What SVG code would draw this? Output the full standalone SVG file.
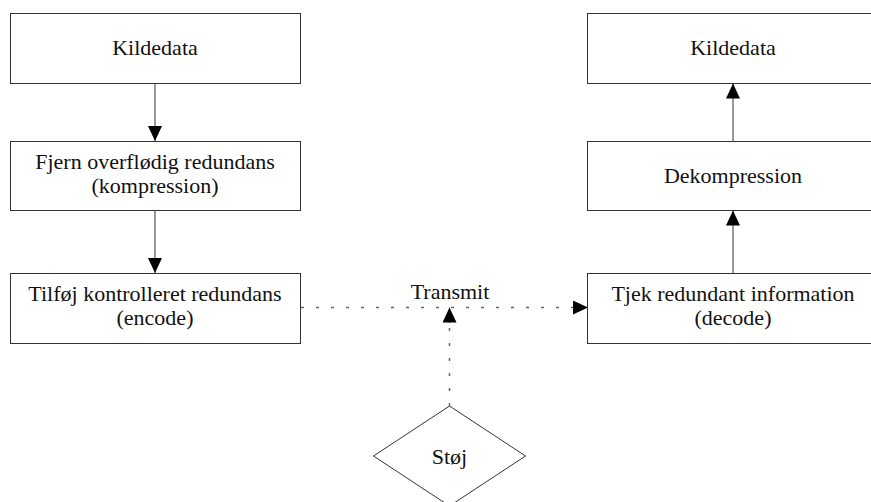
<svg xmlns="http://www.w3.org/2000/svg" width="871" height="502" viewBox="0 0 871 502">
  <style>
    .box { fill: #ffffff; stroke: #333333; stroke-width: 1; }
    .lbl { font-family: 'Liberation Serif', 'DejaVu Serif', serif; font-size: 22px; fill: #111111; text-anchor: middle; }
    .edge { fill: none; stroke: #555555; stroke-width: 1.2; }
    .dotted { fill: none; stroke: #666666; stroke-width: 1.5; stroke-dasharray: 3 12; }
  </style>
  <defs>
    <marker id="head" viewBox="0 0 15 14" refX="15" refY="7" markerWidth="15" markerHeight="14" markerUnits="userSpaceOnUse" orient="auto">
      <path d="M0,0 L15,7 L0,14 Z" fill="#000000"/>
    </marker>
  </defs>
  <rect width="871" height="502" fill="#ffffff"/>

  <!-- connectors -->
  <g id="connectors">
    <line class="edge" x1="155" y1="83" x2="155" y2="141" marker-end="url(#head)"/>
    <line class="edge" x1="155" y1="210" x2="155" y2="273" marker-end="url(#head)"/>
    <line class="edge" x1="733" y1="273" x2="733" y2="210.5" marker-end="url(#head)"/>
    <line class="edge" x1="733" y1="141" x2="733" y2="83.5" marker-end="url(#head)"/>
    <line class="dotted" x1="301" y1="307.5" x2="572" y2="307.5"/>
    <line class="edge" x1="572" y1="307.5" x2="588" y2="307.5" stroke-width="0" marker-end="url(#head)"/>
    <line class="dotted" x1="449.5" y1="406" x2="449.5" y2="322"/>
    <line class="edge" x1="449.5" y1="323" x2="449.5" y2="307.5" stroke-width="0" marker-end="url(#head)"/>
    <text class="lbl" x="450" y="299" font-family="Liberation Serif, DejaVu Serif, serif">Transmit</text>
  </g>

  <!-- sender side -->
  <g id="kildedata-src">
    <rect class="box" x="10.5" y="13.5" width="290" height="70"/>
    <text class="lbl" x="155" y="55">Kildedata</text>
  </g>
  <g id="kompression">
    <rect class="box" x="10.5" y="141.5" width="290" height="69"/>
    <text class="lbl" x="155" y="169">Fjern overflødig redundans</text>
    <text class="lbl" x="155" y="193">(kompression)</text>
  </g>
  <g id="encode">
    <rect class="box" x="10.5" y="273.5" width="290" height="70"/>
    <text class="lbl" x="155" y="301">Tilføj kontrolleret redundans</text>
    <text class="lbl" x="155" y="325">(encode)</text>
  </g>

  <!-- receiver side -->
  <g id="kildedata-dst">
    <rect class="box" x="587.5" y="13.5" width="291" height="70"/>
    <text class="lbl" x="733" y="55">Kildedata</text>
  </g>
  <g id="dekompression">
    <rect class="box" x="587.5" y="141.5" width="291" height="69"/>
    <text class="lbl" x="733" y="183">Dekompression</text>
  </g>
  <g id="decode">
    <rect class="box" x="587.5" y="273.5" width="291" height="70"/>
    <text class="lbl" x="733" y="301">Tjek redundant information</text>
    <text class="lbl" x="733" y="325">(decode)</text>
  </g>

  <!-- noise source -->
  <g id="stoej">
    <polygon class="box" points="449.5,406 525.5,456 449.5,506 373.5,456"/>
    <text class="lbl" x="449.5" y="464">Støj</text>
  </g>
</svg>
